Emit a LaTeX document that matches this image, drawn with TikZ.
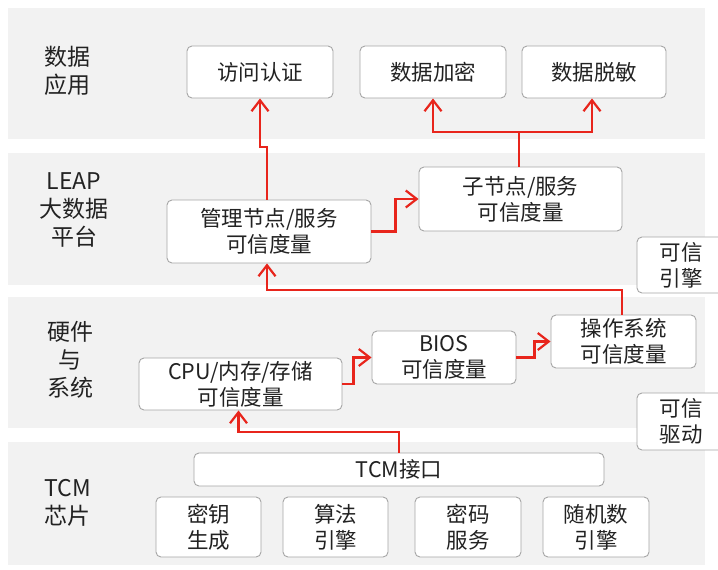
\documentclass[tikz,border=0pt]{standalone}
\usepackage{fontspec}
\setmainfont{Noto Sans CJK SC}
\usetikzlibrary{arrows.meta}
\definecolor{bandgray}{HTML}{F2F2F2}
\definecolor{boxline}{HTML}{A6A6A6}
\definecolor{arrred}{HTML}{E8251C}
\definecolor{txt}{HTML}{222222}
\begin{document}
\begin{tikzpicture}[x=1pt,y=-1pt,
  box/.style={draw=boxline, line width=0.9pt, fill=white, rounded corners=5pt, align=center, inner sep=0pt, font=\fontsize{21.5}{26}\selectfont, text=txt},
  lbl/.style={align=center, font=\fontsize{23}{28}\selectfont, text=txt, inner sep=0pt},
  arr/.style={draw=arrred, line width=2.2pt, -{Straight Barb[length=11pt,width=17pt]}},
  band/.style={fill=bandgray}]
\useasboundingbox (0,0) rectangle (718,570);
\clip (0,0) rectangle (718,570);
\fill[white] (0,0) rectangle (718,570);
% bands
\fill[band] (8,8) rectangle (705,139);
\fill[band] (8,153) rectangle (705,285);
\fill[band] (8,297) rectangle (705,428);
\fill[band] (8,442) rectangle (705,565);
% layer labels
\node[lbl] (l1) at (68,71) {数据\\应用};
\node[lbl] (l2) at (74,210) {LEAP\\大数据\\平台};
\node[lbl] (l3) at (70,360) {硬件\\与\\系统};
\node[lbl] (l4) at (68,503) {TCM\\芯片};
% boxes
\node[box, minimum width=146pt, minimum height=52pt] (acc) at (260,72) {访问认证};
\node[box, minimum width=146pt, minimum height=52pt] (enc) at (433,72) {数据加密};
\node[box, minimum width=144pt, minimum height=52pt] (mask) at (594,72) {数据脱敏};
\node[box, minimum width=204pt, minimum height=63pt] (mgr) at (269,231.5) {管理节点/服务\\可信度量};
\node[box, minimum width=203pt, minimum height=64pt] (sub) at (520.5,199) {子节点/服务\\可信度量};
\node[box, minimum width=88pt, minimum height=56pt] (eng) at (681,265) {可信\\引擎};
\node[box, minimum width=145pt, minimum height=53pt] (os) at (623.5,341.5) {操作系统\\可信度量};
\node[box, minimum width=144pt, minimum height=53pt] (bios) at (444,357.5) {BIOS\\可信度量};
\node[box, minimum width=203pt, minimum height=52pt] (cpu) at (240.5,384) {CPU/内存/存储\\可信度量};
\node[box, minimum width=88pt, minimum height=57pt] (drv) at (681,421.5) {可信\\驱动};
\node[box, minimum width=410pt, minimum height=33pt] (tcm) at (399,469.5) {TCM接口};
\node[box, minimum width=105pt, minimum height=60pt] (k1) at (208.5,527) {密钥\\生成};
\node[box, minimum width=105pt, minimum height=60pt] (k2) at (335.5,527) {算法\\引擎};
\node[box, minimum width=106pt, minimum height=60pt] (k3) at (468,527) {密码\\服务};
\node[box, minimum width=106pt, minimum height=60pt] (k4) at (596,527) {随机数\\引擎};
% connectors
\draw[arr] (tcm.north) |- ([xshift=-2pt]cpu.south |- 0,432) -- ([xshift=-2pt]cpu.south);
\draw[arr] (cpu.east) -- ++(11,0) |- (bios.west);
\draw[arr] (bios.east) -- ++(18,0) |- (os.west);
\draw[arr] ([xshift=-1.5pt]os.north) |- ([xshift=-2pt]mgr.south |- 0,290) -- ([xshift=-2pt]mgr.south);
\draw[arr] (mgr.east) -- ++(24,0) |- (sub.west);
\draw[arr] ([xshift=-2pt]mgr.north) -- ([xshift=-2pt]mgr.north |- 0,147) -| (acc.south);
\draw[arr] ([xshift=-1.5pt]sub.north) |- (enc.south |- 0,132) -- (enc.south);
\draw[arr] ([xshift=-1.5pt]sub.north |- 0,132) -| ([xshift=-2pt]mask.south);
\end{tikzpicture}
\end{document}
